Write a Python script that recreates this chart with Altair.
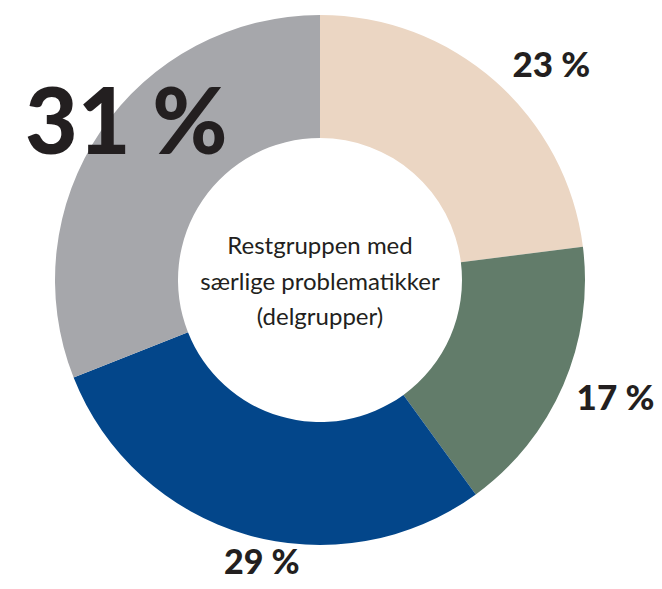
import altair as alt
import pandas as pd

# Data (clockwise from 12 o'clock)
order = [1, 2, 3, 4]
pct = [23, 17, 29, 31]
labels = ["23 %", "17 %", "29 %", "31 %"]
colors = ["#ebd6c3", "#627c6a", "#03468a", "#a6a7ab"]
center_text = "Restgruppen med\nsærlige problematikker\n(delgrupper)"

df = pd.DataFrame({"order": order, "pct": pct, "label": labels})

CX, CY = 312, 272
FONT = "Lato"
INK = "#231f20"

arcs = alt.Chart(df).mark_arc(innerRadius=142, radius=265).encode(
    theta=alt.Theta("pct:Q", stack=True),
    order=alt.Order("order:Q"),
    x=alt.value(CX),
    y=alt.value(CY),
    color=alt.Color("label:N", scale=alt.Scale(domain=labels, range=colors), legend=None),
)

def label_layer(lab, r, dx, dy, size):
    return (
        alt.Chart(df)
        .transform_stack(stack="pct", groupby=[], as_=["t0", "t1"],
                         sort=[alt.SortField("order", order="ascending")])
        .transform_calculate(mid="(datum.t0 + datum.t1) / 2")
        .transform_filter(alt.datum.label == lab)
        .mark_text(radius=r, dx=dx, dy=dy, font=FONT, fontWeight=900, fontSize=size,
                   color=INK, align="center", baseline="middle")
        .encode(
            theta=alt.Theta("mid:Q", stack=None, scale=alt.Scale(domain=[0, 100])),
            x=alt.value(CX), y=alt.value(CY), text="label:N",
        )
    )

l23 = label_layer("23 %", 315, 23, 22, 35)
l17 = label_layer("17 %", 322, 0, -9, 35)
l29 = label_layer("29 %", 298, 25, -2, 34)
l31 = label_layer("31 %", 250, 13, -12, 91)

ctext = alt.Chart(pd.DataFrame({"t": [center_text]})).mark_text(
    font=FONT, fontSize=24, lineHeight=35.5, color=INK, align="center",
    baseline="middle", lineBreak="\n",
).encode(x=alt.value(CX), y=alt.value(CY - 33), text="t:N")

chart = alt.layer(arcs, l23, l17, l29, l31, ctext).resolve_scale(theta="independent").properties(
    width=646, height=573, padding=0, autosize=alt.AutoSizeParams(type="none")
).configure_view(stroke=None)

chart.save("out.html", embed_options={"renderer": "svg", "actions": False})
